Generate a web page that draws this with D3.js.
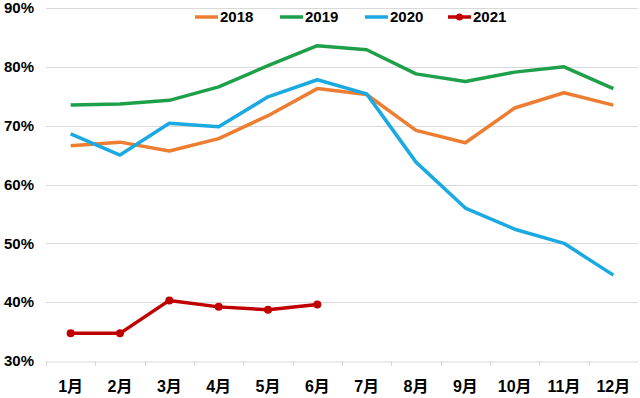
<!DOCTYPE html>
<html>
<head>
<meta charset="utf-8">
<script src="https://cdn.jsdelivr.net/npm/d3@7"></script>
<style>
    body { margin: 0; background: #fff; }
    svg text { font-family: "Liberation Sans", "Noto Sans CJK SC", sans-serif; font-weight: bold; fill: #000; }
</style>
</head>
<body>
<div id="chart"></div>
<script>
const months = ['1月', '2月', '3月', '4月', '5月', '6月', '7月', '8月', '9月', '10月', '11月', '12月'];
const yTicks = [0.3, 0.4, 0.5, 0.6, 0.7, 0.8, 0.9];

const values2018 = [66.6, 67.2, 65.7, 67.8, 71.7, 76.3, 75.3, 69.2, 67.1, 73.0, 75.6, 73.5];
const values2019 = [73.5, 73.7, 74.3, 76.6, 80.2, 83.6, 82.9, 78.8, 77.5, 79.1, 80.0, 76.3];
const values2020 = [68.6, 65.0, 70.4, 69.8, 74.9, 77.8, 75.4, 63.8, 56.0, 52.4, 50.0, 44.6];
const values2021 = [34.7, 34.7, 40.3, 39.2, 38.7, 39.6];

const series = [
    { name: '2018', values: values2018, color: '#ED7D31', marker: false },
    { name: '2019', values: values2019, color: '#1EA04A', marker: false },
    { name: '2020', values: values2020, color: '#1BA9E1', marker: false },
    { name: '2021', values: values2021, color: '#C00000', marker: true }
];

const width = 640, height = 398;
const margin = { top: 8, right: 2, bottom: 37, left: 46 };

const svg = d3.select('#chart')
    .append('svg')
    .attr('width', width)
    .attr('height', height);

const x = d3.scaleBand()
    .domain(months)
    .range([margin.left, width - margin.right]);

const y = d3.scaleLinear()
    .domain([0.3, 0.9])
    .range([height - margin.bottom, margin.top]);

// gridlines
svg.append('g')
    .selectAll('line')
    .data(yTicks.slice(1))
    .enter()
    .append('line')
    .attr('x1', margin.left)
    .attr('x2', width - margin.right)
    .attr('y1', d => Math.round(y(d)) + 0.5)
    .attr('y2', d => Math.round(y(d)) + 0.5)
    .attr('stroke', '#d9d9d9')
    .attr('stroke-width', 1);

// Y axis labels
svg.append('g')
    .selectAll('text')
    .data(yTicks)
    .enter()
    .append('text')
    .attr('x', 34)
    .attr('y', d => y(d))
    .attr('dy', '0.35em')
    .attr('text-anchor', 'end')
    .style('font-size', '15px')
    .text(d3.format('.0%'));

// X axis
const xAxis = svg.append('g')
    .attr('transform', `translate(0,${Math.round(y(0.3)) + 0.5})`)
    .call(d3.axisBottom(x).tickSize(0).tickPadding(19));
xAxis.select('.domain').attr('stroke', '#d9d9d9');
xAxis.selectAll('text')
    .style('font-size', '16px')
    .style('font-family', '"Liberation Sans", "Noto Sans CJK SC", sans-serif');

// tick marks at band boundaries
svg.append('g')
    .selectAll('line')
    .data(months)
    .enter()
    .append('line')
    .attr('x1', d => Math.round(x(d)) + 0.5)
    .attr('x2', d => Math.round(x(d)) + 0.5)
    .attr('y1', y(0.3))
    .attr('y2', y(0.3) + 5)
    .attr('stroke', '#d9d9d9');

const line = d3.line()
    .x((d, i) => x(months[i]) + x.bandwidth() / 2)
    .y(d => y(d / 100));

series.forEach(s => {
    svg.append('path')
        .datum(s.values)
        .attr('fill', 'none')
        .attr('stroke', s.color)
        .attr('stroke-width', 3.5)
        .attr('stroke-linejoin', 'round')
        .attr('d', line);

    if (s.marker) {
        svg.append('g')
            .selectAll('circle')
            .data(s.values)
            .enter()
            .append('circle')
            .attr('cx', (d, i) => x(months[i]) + x.bandwidth() / 2)
            .attr('cy', d => y(d / 100))
            .attr('r', 4)
            .attr('fill', s.color);
    }
});

// legend
const legendX = [195, 280, 365, 448];
const legend = svg.append('g');
series.forEach((s, i) => {
    const g = legend.append('g').attr('transform', `translate(${legendX[i]},17)`);
    g.append('line')
        .attr('x1', 0)
        .attr('x2', 23)
        .attr('stroke', s.color)
        .attr('stroke-width', 3.5);
    if (s.marker) {
        g.append('circle').attr('cx', 11.5).attr('r', 3.5).attr('fill', s.color);
    }
    g.append('text')
        .attr('x', 25)
        .attr('dy', '0.35em')
        .style('font-size', '15px')
        .text(s.name);
});
</script>
</body>
</html>
